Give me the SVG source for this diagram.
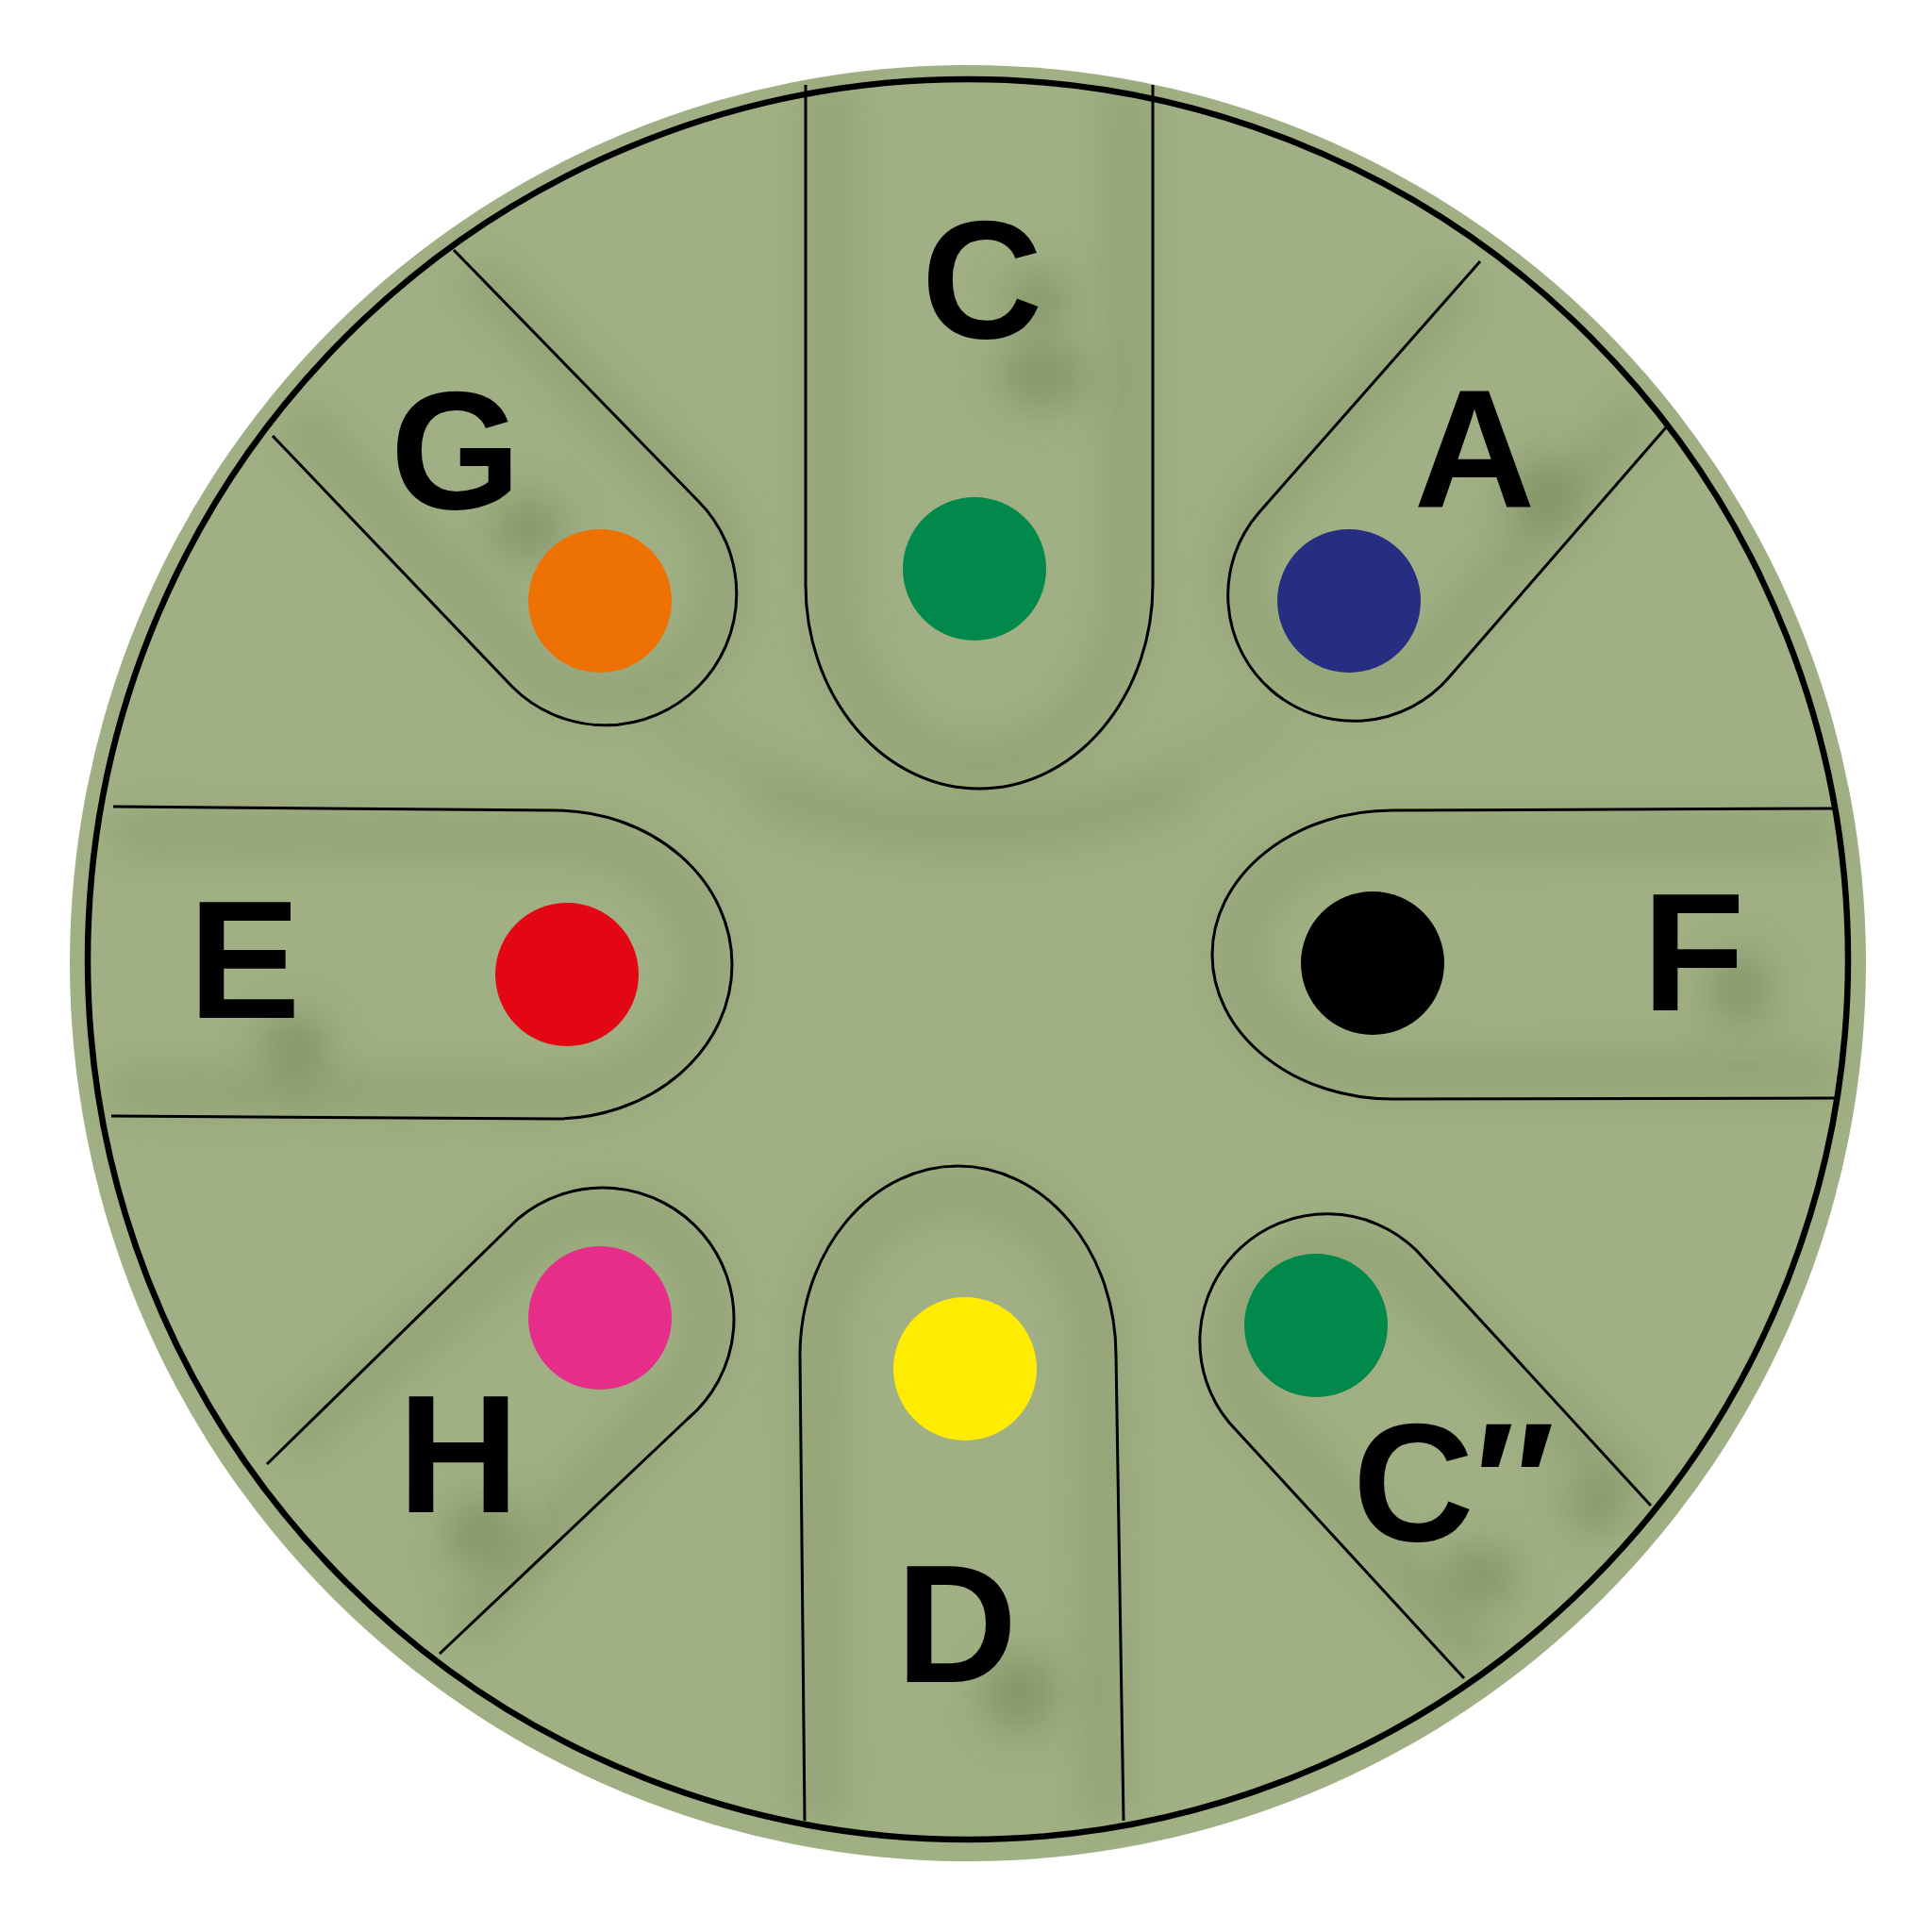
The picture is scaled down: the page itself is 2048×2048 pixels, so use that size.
<svg xmlns="http://www.w3.org/2000/svg" width="2048" height="2048" viewBox="0 0 2048 2048">
<defs>
<style>
.slot{fill:none;stroke:#000;stroke-width:3}
.groove{fill:none;stroke:#7f9063;stroke-width:50;opacity:0.4}
.blob{fill:#6f8052;opacity:0.55}
.lbl{font-family:"Liberation Sans",Arial,sans-serif;font-weight:bold;font-size:178px;fill:#000;text-anchor:middle}
</style>
<filter id="blur" x="-50%" y="-50%" width="200%" height="200%"><feGaussianBlur stdDeviation="19"/></filter>
<filter id="blur2" x="-50%" y="-50%" width="200%" height="200%"><feGaussianBlur stdDeviation="22"/></filter>
<clipPath id="disc"><circle cx="1026" cy="1020" r="950"/></clipPath>
</defs>
<rect width="2048" height="2048" fill="#ffffff"/>
<circle id="drum" cx="1026" cy="1021" r="952" fill="#a0b084"/>
<g id="shading" clip-path="url(#disc)" filter="url(#blur)">
<path class="groove" d="M880,91 L880,620 A158,190 0 0 0 1196,620 L1196,91"/>
<path class="groove" d="M1016,1262 A150,180 0 0 1 1166,1437 L1172,1930 M1016,1262 A150,180 0 0 0 866,1437 L870,1930"/>
<path class="groove" d="M120,882 L588,886 A160,137 0 0 1 588,1160 L118,1157"/>
<path class="groove" d="M1945,884 L1476,886 A165,126 0 0 0 1476,1138 L1946,1137"/>
<path class="groove" d="M500,285 L720,512 A112,112 0 0 1 566,710 L310,440"/>
<path class="groove" d="M1550,298 L1354,522 A110,110 0 0 0 1518,696 L1745,432"/>
<path class="groove" d="M302,1532 L566,1312 A112,112 0 0 1 712,1482 L486,1732"/>
<path class="groove" d="M1730,1576 L1484,1346 A110,110 0 0 0 1324,1490 L1572,1760"/>
<path class="groove" d="M700,760 Q1030,980 1360,760" style="opacity:0.22"/>
<path class="groove" d="M800,840 Q1030,930 1260,840" style="opacity:0.28"/>
</g>
<g id="blobs" filter="url(#blur2)">
<ellipse class="blob" cx="1105" cy="398" rx="48" ry="34"/>
<ellipse class="blob" cx="1100" cy="318" rx="34" ry="30"/>
<ellipse class="blob" cx="560" cy="560" rx="38" ry="34"/>
<ellipse class="blob" cx="1635" cy="522" rx="34" ry="38"/>
<ellipse class="blob" cx="313" cy="1110" rx="34" ry="38"/>
<ellipse class="blob" cx="1845" cy="1048" rx="32" ry="40"/>
<ellipse class="blob" cx="510" cy="1625" rx="38" ry="38"/>
<ellipse class="blob" cx="1080" cy="1795" rx="40" ry="42"/>
<ellipse class="blob" cx="1570" cy="1670" rx="40" ry="30"/>
<ellipse class="blob" cx="1690" cy="1595" rx="30" ry="28"/>
</g>
<circle id="rim" cx="1026" cy="1017" r="933" fill="none" stroke="#000" stroke-width="6.5"/>
<g id="connectors">
<path id="slot-C" class="slot" d="M854,90 L854,620 A184,216 0 0 0 1222,620 L1222,90"/>
<path id="slot-D" class="slot" d="M853,1930 L848,1437 A167.5,201 0 0 1 1183,1437 L1191,1930"/>
<path id="slot-E" class="slot" d="M120,855 L588,859 A188,163.5 0 0 1 588,1186 L118,1183"/>
<path id="slot-F" class="slot" d="M1945,857 L1476,859 A191,153 0 0 0 1476,1165 L1946,1164"/>
<path id="slot-G" class="slot" d="M481,265 L740,531 A139,139 0 0 1 543,728 L289,462"/>
<path id="slot-A" class="slot" d="M1569,277 L1334,544 A133,133 0 0 0 1536,718 L1767,452"/>
<path id="slot-H" class="slot" d="M283,1552 L549,1292 A139,139 0 0 1 729,1504 L466,1753"/>
<path id="slot-C2" class="slot" d="M1750,1596 L1501,1325 A135,135 0 0 0 1303,1508 L1552,1779"/>
</g>
<g id="note-C"><circle cx="1033" cy="603" r="76" fill="#00894a"/><text class="lbl" x="1041" y="358">C</text></g>
<g id="note-G"><circle cx="636" cy="637" r="76" fill="#ee7203"/><text class="lbl" x="483" y="539">G</text></g>
<g id="note-A"><circle cx="1430" cy="637" r="76" fill="#252e80"/><text class="lbl" x="1563" y="537">A</text></g>
<g id="note-E"><circle cx="601" cy="1033" r="76" fill="#e30613"/><text class="lbl" x="259" y="1079">E</text></g>
<g id="note-F"><circle cx="1455" cy="1021" r="76" fill="#000000"/><text class="lbl" x="1795" y="1071">F</text></g>
<g id="note-H"><circle cx="636" cy="1397" r="76" fill="#e62d8a"/><text class="lbl" x="486" y="1603">H</text></g>
<g id="note-D"><circle cx="1023" cy="1451" r="76" fill="#ffec00"/><text class="lbl" x="1014" y="1783">D</text></g>
<g id="note-C2"><circle cx="1395" cy="1405" r="76" fill="#00894a"/><text class="lbl" x="1541" y="1633">C″</text></g>
</svg>
